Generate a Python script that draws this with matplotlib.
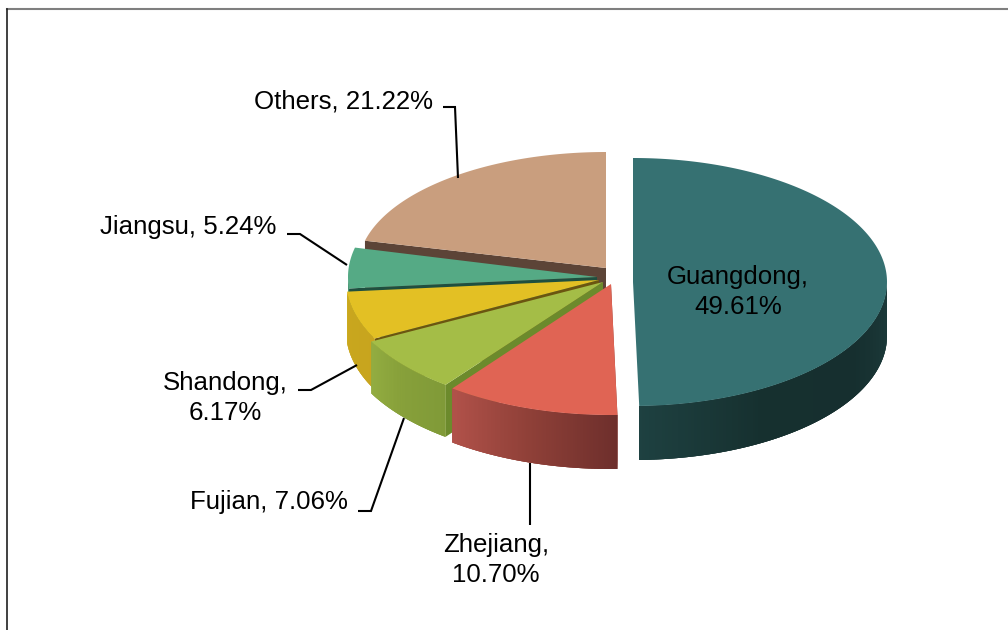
import numpy as np
import matplotlib
matplotlib.use("Agg")
import matplotlib.pyplot as plt
from matplotlib.collections import PolyCollection
from matplotlib.colors import to_rgb

plt.rcParams['font.family'] = ['Liberation Sans', 'DejaVu Sans']

# shares in clockwise order starting from 12 o'clock
regions = ['Guangdong', 'Zhejiang', 'Fujian', 'Shandong', 'Jiangsu', 'Others']
shares = [49.61, 10.70, 7.06, 6.17, 5.24, 21.22]
label_text = ['Guangdong,\n49.61%', 'Zhejiang,\n10.70%', 'Fujian, 7.06%',
              'Shandong,\n6.17%', 'Jiangsu, 5.24%', 'Others, 21.22%']

top_colors = ['#367172', '#e06454', '#a4bd47', '#e3c024', '#55aa85', '#c99e7e']
wall_colors = ['#1c3c3c', '#8a3d35', '#6c8a2c', '#6b5510', '#1f4f3f', '#5c4437']
side_stops = [['#1e4141', '#16302f', '#162f2f', '#1d3c3c'],
              ['#b2524a', '#8f4038', '#6e2f2c'],
              ['#94ae42', '#87a03a', '#809a38'],
              ['#d0ac20', '#c8a61e', '#c9a41f'],
              ['#4a9574', '#4a9574'],
              ['#8f7058', '#8f7058']]

# exploded position and projected radii of each slice, in pixels
centers = [(633, 282), (611, 284), (603, 282), (599, 280), (597, 277), (606, 268)]
radii_x = [254, 263, 261, 253, 249, 248]
radii_y = [124, 131, 129, 127, 125, 116]
depths = [54, 54, 52, 51, 50, 50]

label_pos = [(738, 292), (496, 560), (269, 502), (225, 398), (188, 227), (343, 102)]
leaders = [None,
           [(530, 463), (530, 525)],
           [(404, 418), (371, 511), (358, 511)],
           [(357, 365), (311, 390), (298, 390)],
           [(347, 265), (300, 234), (287, 234)],
           [(458, 178), (455, 107), (443, 107)]]

fig = plt.figure(figsize=(10.08, 6.3), dpi=100)
ax = fig.add_axes([0, 0, 1, 1])
ax.set_xlim(0, 1008)
ax.set_ylim(630, 0)
ax.axis('off')


def rim(i, deg):
    t = np.radians(deg)
    cx, cy = centers[i]
    return cx + radii_x[i] * np.sin(t), cy - radii_y[i] * np.cos(t)


def blend(stops, f):
    pos = f * (len(stops) - 1)
    k = min(int(pos), len(stops) - 2)
    a, b = np.array(to_rgb(stops[k])), np.array(to_rgb(stops[k + 1]))
    return a + (b - a) * (pos - k)


edges = np.concatenate([[0], np.cumsum(shares)]) / np.sum(shares) * 360

# back slices first, the way the 3d chart stacks them
for i in [5, 4, 3, 2, 1, 0]:
    start, end = edges[i], edges[i + 1]
    cx, cy = centers[i]
    d = depths[i]

    # cut face on the leading edge
    wx, wy = rim(i, start)
    ax.fill([cx, wx, wx, cx], [cy, wy, wy + d, cy + d], color=wall_colors[i],
            lw=0, zorder=2 + (5 - i))

    # outer wall, only the part facing the viewer
    lo, hi = max(start, 90), min(end, 270)
    if hi > lo:
        th = np.linspace(lo, hi, 120)
        # solid base, thin strips alone let the slice behind bleed through
        xs, ys = rim(i, th)
        ax.fill(np.r_[xs, xs[::-1]], np.r_[ys, ys[::-1] + d],
                color=blend(side_stops[i], 0.5), lw=0, zorder=2 + (5 - i))
        quads, cols = [], []
        for j in range(len(th) - 1):
            # each strip runs under the next one so no seams show
            a, b = th[j], th[min(j + 2, len(th) - 1)]
            xa, ya = rim(i, a)
            xb, yb = rim(i, b)
            quads.append([(xa, ya), (xb, yb), (xb, yb + d), (xa, ya + d)])
            # gradient runs left to right on screen
            f = 1 - (a - lo) / (hi - lo)
            cols.append(blend(side_stops[i], f))
        ax.add_collection(PolyCollection(quads, facecolors=cols, linewidths=0,
                                         zorder=2 + (5 - i)))

    # top face
    th = np.linspace(start, end, 200)
    xs, ys = rim(i, th)
    ax.fill(np.r_[cx, xs], np.r_[cy, ys], color=top_colors[i], lw=0,
            zorder=2 + (5 - i))

for line in leaders:
    if line:
        ax.plot(*zip(*line), color='black', lw=1.5, zorder=10,
                solid_joinstyle='miter', solid_capstyle='butt')

for txt, (x, y) in zip(label_text, label_pos):
    ax.text(x, y, txt, ha='center', va='center', fontsize=18.6, color='black',
            linespacing=1.3, zorder=11)

# chart frame, only top and left survive the crop
ax.plot([7, 1008], [9, 9], color='#7f7f7f', lw=1.5, zorder=1)
ax.plot([7, 7], [9, 630], color='#202020', lw=1.2, zorder=1)

fig.savefig('out.png', dpi=100)
